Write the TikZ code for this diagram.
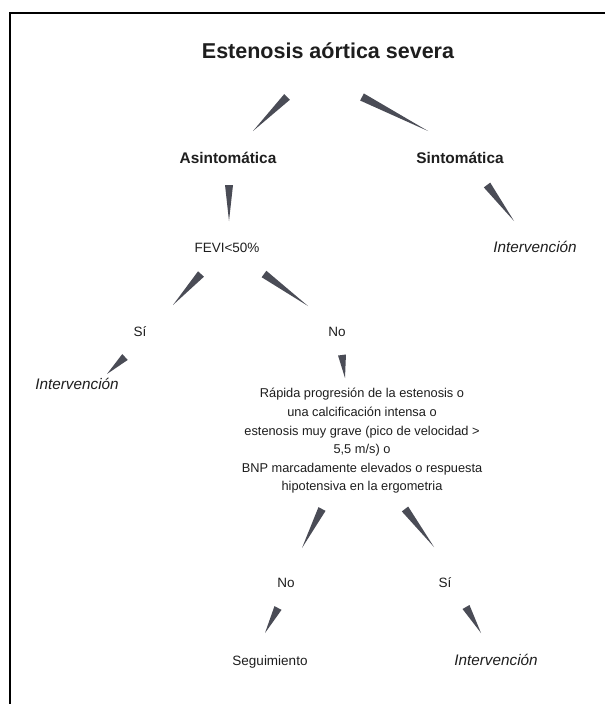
\documentclass[tikz,border=0pt]{standalone}
\usepackage{fontspec}
\setmainfont{Liberation Sans}
\usetikzlibrary{calc}
\definecolor{wedgecol}{HTML}{4A4C56}
\definecolor{txt}{HTML}{1E1E1E}
\newcommand\wedgeto[2]{\fill[wedgecol] ($(#1)!4pt!90:(#2)$) -- ($(#1)!4pt!-90:(#2)$) -- (#2) -- cycle;}
\begin{document}
\begin{tikzpicture}[x=1pt,y=-1pt,
  lbl/.style={inner sep=0pt, text=txt, font=\fontsize{13.5}{18.6}\selectfont, text height=0.716em, text depth=0pt},
  boldlbl/.style={lbl, font=\fontsize{15.4}{18}\selectfont\bfseries},
  itlbl/.style={lbl, font=\fontsize{15.3}{18}\selectfont\itshape},
  titlelbl/.style={lbl, font=\fontsize{21.5}{24}\selectfont\bfseries},
  longlbl/.style={inner sep=0pt, text=txt, align=center, font=\fontsize{12.8}{18.6}\selectfont}]
\useasboundingbox (0,0) rectangle (605,704);
\fill[white] (0,0) rectangle (605,704);
% frame
\draw[line width=2pt, black] (10,704) -- (10,13) -- (605,13);
% nodes
\node[titlelbl] (title) at (328,55) {Estenosis aórtica severa};
\node[boldlbl] (asin) at (228,160) {Asintomática};
\node[boldlbl] (sint) at (460,160) {Sintomática};
\node[lbl] (fevi) at (227,249) {FEVI<50\%};
\node[itlbl] (int1) at (535,249) {Intervención};
\node[lbl] (si1) at (140,333) {Sí};
\node[lbl] (no1) at (337,333) {No};
\node[itlbl] (int2) at (77,386) {Intervención};
\node[longlbl] (crit) at (362,441) {Rápida progresión de la estenosis o\\una calcificación intensa o\\estenosis muy grave (pico de velocidad >\\5,5 m/s) o\\BNP marcadamente elevados o respuesta\\hipotensiva en la ergometria};
\node[lbl] (no2) at (286,584) {No};
\node[lbl] (si2) at (445,584) {Sí};
\node[lbl] (seg) at (270,662) {Seguimiento};
\node[itlbl] (int3) at (496,662) {Intervención};
% wedge end points
\coordinate (a1) at (287,97);  \coordinate (b1) at (253,131);
\coordinate (a2) at (362,97);  \coordinate (b2) at (428,131);
\coordinate (a3) at (229,185); \coordinate (b3) at (229,221);
\coordinate (a4) at (487,185); \coordinate (b4) at (514,221);
\coordinate (a5) at (201,274); \coordinate (b5) at (173,305);
\coordinate (a6) at (264,274); \coordinate (b6) at (308,306);
\coordinate (a7) at (125,357); \coordinate (b7) at (107,374);
\coordinate (a8) at (342,355); \coordinate (b8) at (345,378);
\coordinate (a9) at (322,509); \coordinate (b9) at (302,548);
\coordinate (a10) at (405,509); \coordinate (b10) at (434,547);
\coordinate (a11) at (278,608); \coordinate (b11) at (265,633);
\coordinate (a12) at (466,607); \coordinate (b12) at (481,633);
\wedgeto{a1}{b1}
\wedgeto{a2}{b2}
\wedgeto{a3}{b3}
\wedgeto{a4}{b4}
\wedgeto{a5}{b5}
\wedgeto{a6}{b6}
\wedgeto{a7}{b7}
\wedgeto{a8}{b8}
\wedgeto{a9}{b9}
\wedgeto{a10}{b10}
\wedgeto{a11}{b11}
\wedgeto{a12}{b12}
\end{tikzpicture}
\end{document}
